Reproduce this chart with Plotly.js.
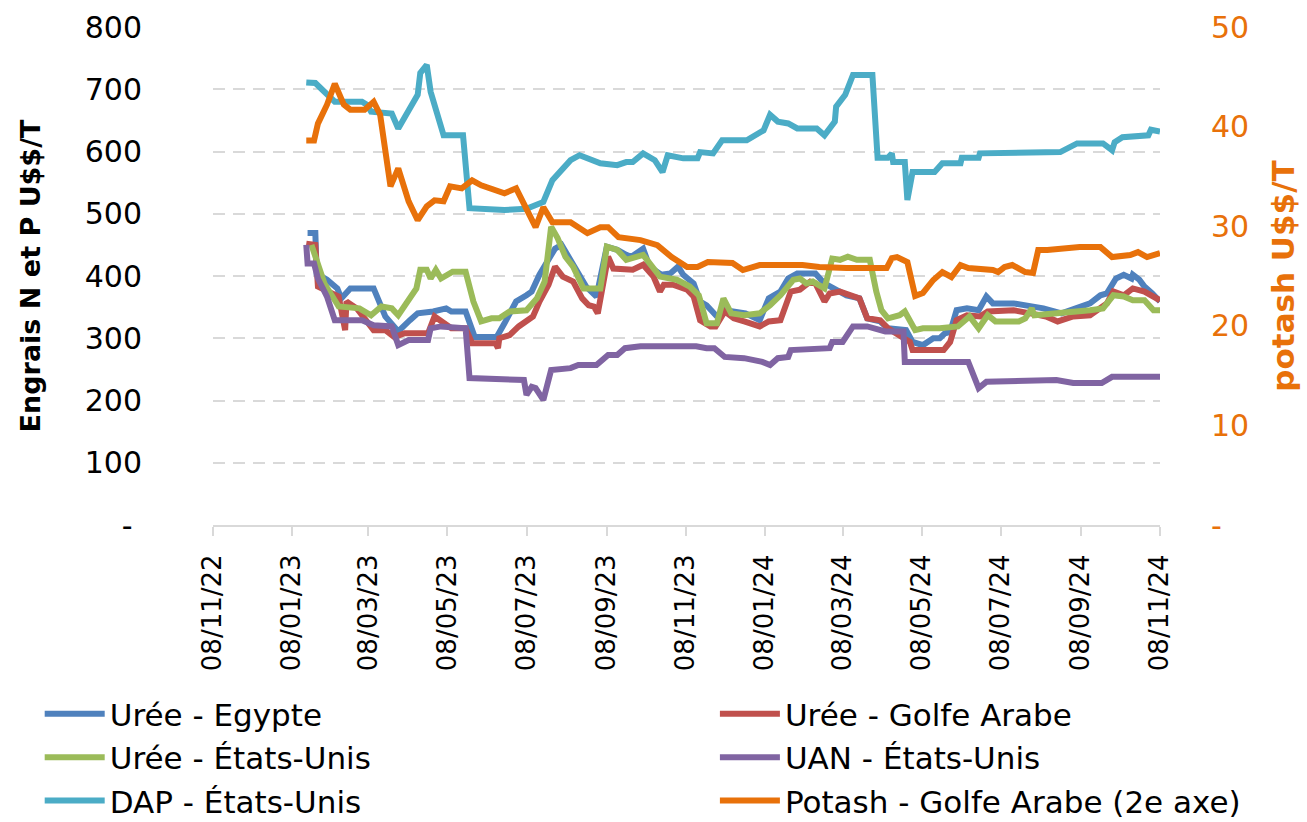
<!DOCTYPE html>
<html>
<head>
<meta charset="utf-8">
<script src="https://cdn.plot.ly/plotly-3.0.1.min.js"></script>
<style>html,body{margin:0;padding:0;background:#fff;}#chart{width:1307px;height:822px;}</style>
</head>
<body>
<div id="chart"></div>
<script>
// ---- Data ----
const seriesNames = ['Urée - Egypte','Urée - Golfe Arabe','Urée - États-Unis','UAN - États-Unis','DAP - États-Unis','Potash - Golfe Arabe (2e axe)'];

const egypteDates = ['2023-01-20','2023-01-26','2023-01-27','2023-02-04','2023-02-12','2023-02-15','2023-02-22','2023-03-12','2023-03-21','2023-03-31','2023-04-09','2023-04-15','2023-04-27','2023-05-03','2023-05-07','2023-05-11','2023-05-22','2023-05-29','2023-06-15','2023-06-21','2023-06-30','2023-07-08','2023-07-12','2023-07-18','2023-07-26','2023-07-30','2023-08-04','2023-08-09','2023-08-14','2023-08-23','2023-08-31','2023-09-08','2023-09-16','2023-09-23','2023-09-27','2023-10-06','2023-10-11','2023-10-20','2023-10-27','2023-11-02','2023-11-06','2023-11-14','2023-11-19','2023-11-24','2023-12-02','2023-12-08','2023-12-17','2023-12-24','2024-01-04','2024-01-11','2024-01-20','2024-01-26','2024-02-02','2024-02-16','2024-02-23','2024-02-27','2024-03-11','2024-03-21','2024-03-27','2024-04-06','2024-04-12','2024-04-26','2024-05-01','2024-05-09','2024-05-17','2024-05-22','2024-05-26','2024-05-30','2024-06-04','2024-06-12','2024-06-21','2024-06-27','2024-07-02','2024-07-18','2024-07-31','2024-08-10','2024-08-24','2024-09-05','2024-09-15','2024-09-23','2024-09-28','2024-10-05','2024-10-11','2024-10-17','2024-10-18','2024-10-23','2024-10-27','2024-11-02','2024-11-08'];
const egypteVals = [469,469,404,394,380,364,380,380,335,311,329,340,343,345,348,343,343,302,302,324,359,369,375,402,431,444,450,434,415,383,367,447,442,434,431,444,415,402,404,415,402,388,359,353,335,345,343,340,329,364,375,396,404,404,388,383,369,364,332,327,316,313,294,289,300,300,308,310,345,348,345,367,356,356,351,348,340,348,356,369,372,396,402,396,402,394,383,372,359];

const golfeDates = ['2023-01-19','2023-01-26','2023-01-28','2023-02-05','2023-02-13','2023-02-18','2023-02-19','2023-02-27','2023-03-12','2023-03-21','2023-03-28','2023-04-05','2023-04-23','2023-04-28','2023-05-03','2023-05-11','2023-05-22','2023-05-27','2023-06-14','2023-06-16','2023-06-17','2023-06-25','2023-07-02','2023-07-08','2023-07-13','2023-07-18','2023-07-25','2023-07-30','2023-08-05','2023-08-13','2023-08-20','2023-08-25','2023-08-29','2023-09-01','2023-09-09','2023-09-13','2023-09-21','2023-09-28','2023-10-06','2023-10-14','2023-10-19','2023-10-22','2023-10-29','2023-11-09','2023-11-14','2023-11-19','2023-11-27','2023-12-01','2023-12-08','2023-12-15','2023-12-23','2024-01-04','2024-01-11','2024-01-20','2024-01-28','2024-02-04','2024-02-12','2024-02-16','2024-02-23','2024-02-27','2024-03-06','2024-03-14','2024-03-21','2024-03-27','2024-04-06','2024-04-12','2024-04-29','2024-05-01','2024-05-25','2024-05-30','2024-06-04','2024-06-12','2024-06-22','2024-06-28','2024-07-18','2024-07-31','2024-08-12','2024-08-21','2024-09-02','2024-09-15','2024-09-28','2024-10-03','2024-10-11','2024-10-18','2024-10-27','2024-11-08'];
const golfeVals = [452,450,383,375,367,313,359,348,313,313,302,308,308,335,327,316,316,292,292,284,300,305,319,329,335,359,386,415,399,391,364,353,351,340,431,412,412,410,418,399,375,386,386,378,367,329,319,319,343,332,327,319,327,329,375,378,391,388,359,372,375,369,364,332,329,316,294,281,281,294,329,337,335,343,345,340,335,327,335,337,356,375,369,380,375,361];

const usaDates = ['2023-01-23','2023-01-28','2023-02-02','2023-02-13','2023-03-01','2023-03-10','2023-03-18','2023-03-26','2023-03-31','2023-04-14','2023-04-17','2023-04-22','2023-04-25','2023-04-29','2023-05-03','2023-05-12','2023-05-22','2023-05-28','2023-06-03','2023-06-11','2023-06-17','2023-06-25','2023-07-08','2023-07-16','2023-07-22','2023-07-27','2023-08-01','2023-08-07','2023-08-13','2023-08-21','2023-09-03','2023-09-08','2023-09-16','2023-09-23','2023-10-06','2023-10-19','2023-11-01','2023-11-11','2023-11-18','2023-11-24','2023-12-02','2023-12-07','2023-12-13','2023-12-23','2024-01-04','2024-01-12','2024-01-20','2024-01-30','2024-02-04','2024-02-09','2024-02-14','2024-02-23','2024-02-29','2024-03-06','2024-03-12','2024-03-19','2024-03-29','2024-04-03','2024-04-07','2024-04-12','2024-04-21','2024-04-25','2024-04-29','2024-05-03','2024-05-09','2024-05-22','2024-06-05','2024-06-14','2024-06-21','2024-06-28','2024-07-04','2024-07-22','2024-07-27','2024-08-01','2024-08-03','2024-08-25','2024-09-15','2024-09-25','2024-10-03','2024-10-11','2024-10-18','2024-10-27','2024-10-31','2024-11-03','2024-11-08'];
const usaVals = [450,420,388,351,348,337,351,348,337,380,410,410,396,410,396,407,407,359,327,332,332,343,345,364,391,479,461,431,415,380,380,447,442,426,434,399,394,383,369,324,324,364,340,337,340,353,369,394,396,388,391,380,428,426,431,426,426,375,345,332,337,343,329,313,316,316,319,335,316,337,327,327,332,348,337,340,345,348,369,367,361,361,351,345,345];

const uanDates = ['2023-01-19','2023-01-20','2023-01-25','2023-01-28','2023-02-04','2023-02-10','2023-03-03','2023-03-12','2023-03-26','2023-03-31','2023-04-08','2023-04-23','2023-04-25','2023-05-03','2023-05-22','2023-05-25','2023-07-06','2023-07-08','2023-07-12','2023-07-15','2023-07-21','2023-07-27','2023-08-11','2023-08-17','2023-08-31','2023-09-09','2023-09-16','2023-09-22','2023-10-04','2023-11-16','2023-11-24','2023-11-30','2023-12-08','2023-12-23','2024-01-06','2024-01-12','2024-01-18','2024-01-26','2024-01-28','2024-02-27','2024-02-29','2024-03-08','2024-03-16','2024-03-27','2024-04-10','2024-04-24','2024-04-25','2024-06-13','2024-06-21','2024-06-27','2024-08-20','2024-09-02','2024-09-24','2024-10-02','2024-11-08'];
const uanVals = [450,420,420,396,367,329,329,321,319,289,297,297,316,319,316,236,233,209,222,220,201,249,252,257,257,273,273,284,287,287,284,284,270,268,262,257,268,270,281,284,294,294,319,319,311,311,262,262,220,230,233,228,228,238,238];

const dapDates = ['2023-01-19','2023-01-26','2023-02-02','2023-02-10','2023-03-03','2023-03-07','2023-03-10','2023-03-26','2023-03-31','2023-04-15','2023-04-17','2023-04-22','2023-04-25','2023-04-28','2023-05-05','2023-05-20','2023-05-25','2023-06-21','2023-07-08','2023-07-21','2023-07-28','2023-08-11','2023-08-18','2023-09-03','2023-09-16','2023-09-23','2023-09-28','2023-10-06','2023-10-15','2023-10-21','2023-10-25','2023-11-06','2023-11-17','2023-11-19','2023-11-29','2023-12-06','2023-12-25','2024-01-07','2024-01-12','2024-01-18','2024-01-26','2024-02-02','2024-02-17','2024-02-23','2024-03-02','2024-03-03','2024-03-10','2024-03-16','2024-03-31','2024-04-04','2024-04-12','2024-04-15','2024-04-16','2024-04-25','2024-04-27','2024-05-01','2024-05-18','2024-05-24','2024-06-07','2024-06-08','2024-06-21','2024-06-22','2024-08-07','2024-08-23','2024-09-05','2024-09-25','2024-10-02','2024-10-04','2024-10-10','2024-10-30','2024-11-01','2024-11-08'];
const dapVals = [711,710,696,680,680,675,664,661,637,691,726,739,696,675,626,626,509,506,508,519,554,586,594,581,578,583,583,597,586,567,594,589,589,599,597,618,618,634,659,648,645,637,637,626,648,672,691,723,723,590,590,597,583,583,522,567,567,581,581,590,590,597,599,599,613,613,602,615,623,626,635,632];

const potashDates = ['2023-01-19','2023-01-25','2023-01-28','2023-02-04','2023-02-10','2023-02-17','2023-02-22','2023-03-05','2023-03-12','2023-03-17','2023-03-25','2023-03-31','2023-04-08','2023-04-15','2023-04-22','2023-04-28','2023-05-05','2023-05-10','2023-05-19','2023-05-27','2023-06-03','2023-06-21','2023-06-30','2023-07-07','2023-07-15','2023-07-21','2023-07-28','2023-08-11','2023-08-24','2023-09-03','2023-09-09','2023-09-17','2023-10-04','2023-10-17','2023-10-28','2023-11-09','2023-11-17','2023-11-25','2023-12-14','2023-12-22','2024-01-04','2024-02-06','2024-02-19','2024-03-11','2024-04-11','2024-04-15','2024-04-19','2024-04-27','2024-05-03','2024-05-09','2024-05-17','2024-05-24','2024-05-31','2024-06-07','2024-06-13','2024-07-02','2024-07-06','2024-07-11','2024-07-17','2024-07-27','2024-08-02','2024-08-06','2024-08-13','2024-09-07','2024-09-23','2024-10-02','2024-10-16','2024-10-22','2024-10-29','2024-11-08'];
const potashVals = [38.6,38.6,40.3,42.2,44.3,42.2,41.7,41.7,42.5,41.2,34.0,35.8,32.5,30.6,32.0,32.6,32.5,34.0,33.8,34.6,34.1,33.3,33.8,31.9,29.9,31.9,30.4,30.4,29.3,29.9,29.9,28.9,28.6,28.1,26.9,25.9,25.9,26.4,26.3,25.6,26.1,26.1,25.9,25.8,25.8,26.8,26.9,26.4,23.0,23.3,24.6,25.4,24.9,26.1,25.8,25.6,25.4,25.9,26.1,25.4,25.3,27.6,27.6,27.9,27.9,26.9,27.1,27.4,26.9,27.3];

const xTickVals = ['2022-11-08','2023-01-08','2023-03-08','2023-05-08','2023-07-08','2023-09-08','2023-11-08','2024-01-08','2024-03-08','2024-05-08','2024-07-08','2024-09-08','2024-11-08'];
const xTickText = ['08/11/22','08/01/23','08/03/23','08/05/23','08/07/23','08/09/23','08/11/23','08/01/24','08/03/24','08/05/24','08/07/24','08/09/24','08/11/24'];
const yTickVals = [0,100,200,300,400,500,600,700,800];
const yTickText = ['-\u00A0','100','200','300','400','500','600','700','800'];
const y2TickVals = [0,10,20,30,40,50];
const y2TickText = ['-','10','20','30','40','50'];

// ---- Styles ----
const colors = ['#4F81BD','#C0504D','#9BBB59','#8064A2','#4BACC6','#E8710A'];
const ORANGE = '#E8710A';
const FONT = 'DejaVu Sans, Verdana, sans-serif';

function tr(x, y, i, legendId, yaxis) {
  return {
    type: 'scatter', mode: 'lines', x: x, y: y, name: seriesNames[i],
    line: {color: colors[i], width: 6},
    legend: legendId, legendgroup: 'g' + i, yaxis: yaxis || 'y',
    hoverinfo: 'x+y+name'
  };
}

const data = [
  tr(egypteDates, egypteVals, 0, 'legend'),
  tr(golfeDates, golfeVals, 1, 'legend2'),
  tr(usaDates, usaVals, 2, 'legend'),
  tr(uanDates, uanVals, 3, 'legend2'),
  tr(dapDates, dapVals, 4, 'legend'),
  tr(potashDates, potashVals, 5, 'legend2', 'y2')
];

const legendCommon = {
  orientation: 'v', xanchor: 'left', yanchor: 'top',
  yref: 'container', y: 0.164,
  font: {family: FONT, size: 31, color: '#000'},
  tracegroupgap: 0, bgcolor: 'rgba(0,0,0,0)', itemwidth: 60
};

const layout = {
  width: 1307, height: 822,
  margin: {l: 213, r: 147, t: 27, b: 297, autoexpand: false},
  paper_bgcolor: '#fff', plot_bgcolor: '#fff',
  font: {family: FONT, color: '#000'},
  showlegend: true,
  xaxis: {
    type: 'date', range: ['2022-11-08', '2024-11-08'],
    tickmode: 'array', tickvals: xTickVals, ticktext: xTickText,
    tickangle: -90, tickfont: {family: FONT, size: 26, color: '#000'},
    showgrid: false, zeroline: false,
    showline: true, linecolor: '#d9d9d9', linewidth: 2,
    ticks: 'outside', ticklen: 9, tickwidth: 2, tickcolor: '#d9d9d9',
    ticklabelstandoff: 8,
    fixedrange: true
  },
  yaxis: {
    range: [0, 800], tickmode: 'array', tickvals: yTickVals, ticktext: yTickText,
    tickfont: {family: FONT, size: 30, color: '#000'},
    showgrid: true, gridcolor: '#d9d9d9', gridwidth: 2, griddash: '12px,8px',
    zeroline: false, showline: false, ticks: '', ticklabelstandoff: 70,
    title: {text: 'Engrais N et P U$$/T\u00A0\u00A0\u00A0\u00A0\u00A0', font: {family: FONT, size: 27, color: '#000', weight: 'bold'}, standoff: 36},
    fixedrange: true
  },
  yaxis2: {
    overlaying: 'y', side: 'right', range: [0, 50],
    tickmode: 'array', tickvals: y2TickVals, ticktext: y2TickText,
    tickfont: {family: FONT, size: 30, color: ORANGE},
    showgrid: false, zeroline: false, showline: false, ticks: '', ticklabelstandoff: 50,
    title: {text: 'potash U$$/T', font: {family: FONT, size: 31, color: ORANGE, weight: 'bold'}, standoff: 24},
    fixedrange: true
  },
  legend: Object.assign({}, legendCommon, {x: -0.183}),
  legend2: Object.assign({}, legendCommon, {x: 0.530})
};

Plotly.newPlot('chart', data, layout, {displayModeBar: false, staticPlot: true});
</script>
</body>
</html>
